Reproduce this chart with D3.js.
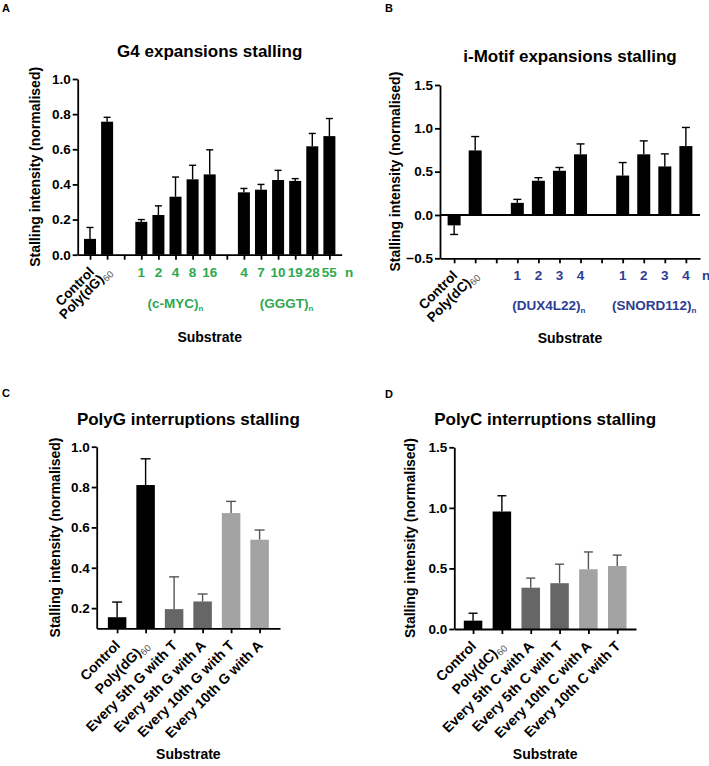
<!DOCTYPE html>
<html>
<head>
<meta charset="utf-8">
<script src="https://cdn.jsdelivr.net/npm/d3@7"></script>
<style>
  html, body { margin: 0; padding: 0; background: #fff; }
  svg text { font-family: "Liberation Sans", Arial, sans-serif; font-weight: bold; }
</style>
</head>
<body>
<script>
// ---------------- DATA ----------------
// Panel A: G4 expansions stalling
const aControls = ["Control", "Poly(dG)60"];
const aControlValues = [0.09, 0.757];
const aControlErrors = [0.065, 0.025];
const aMycRepeats = ["1", "2", "4", "8", "16"];
const aMycValues = [0.187, 0.226, 0.33, 0.429, 0.457];
const aMycErrors = [0.013, 0.052, 0.112, 0.08, 0.14];
const aGggtRepeats = ["4", "7", "10", "19", "28", "55"];
const aGggtValues = [0.355, 0.37, 0.425, 0.42, 0.617, 0.675];
const aGggtErrors = [0.022, 0.03, 0.055, 0.013, 0.073, 0.1];
const aTicks = [0.0, 0.2, 0.4, 0.6, 0.8, 1.0];

// Panel B: i-Motif expansions stalling
const bControls = ["Control", "Poly(dC)60"];
const bControlValues = [-0.12, 0.745];
const bControlErrors = [0.105, 0.16];
const bDuxRepeats = ["1", "2", "3", "4"];
const bDuxValues = [0.14, 0.395, 0.51, 0.70];
const bDuxErrors = [0.04, 0.035, 0.038, 0.12];
const bSnordRepeats = ["1", "2", "3", "4"];
const bSnordValues = [0.455, 0.70, 0.56, 0.795];
const bSnordErrors = [0.15, 0.155, 0.145, 0.215];
const bTicks = [-0.5, 0.0, 0.5, 1.0, 1.5];

// Panel C: PolyG interruptions stalling
const cCategories = ["Control", "Poly(dG)60", "Every 5th G with T", "Every 5th G with A", "Every 10th G with T", "Every 10th G with A"];
const cValues = [0.155, 0.81, 0.195, 0.233, 0.671, 0.539];
const cErrors = [0.075, 0.13, 0.16, 0.037, 0.058, 0.048];
const cShades = ["black", "black", "dark", "dark", "light", "light"];
const cTicks = [0.2, 0.4, 0.6, 0.8, 1.0];

// Panel D: PolyC interruptions stalling
const dCategories = ["Control", "Poly(dC)60", "Every 5th C with A", "Every 5th C with T", "Every 10th C with A", "Every 10th C with T"];
const dValues = [0.069, 0.97, 0.341, 0.378, 0.493, 0.52];
const dErrors = [0.061, 0.13, 0.079, 0.157, 0.143, 0.09];
const dShades = ["black", "black", "dark", "dark", "light", "light"];
const dTicks = [0.0, 0.5, 1.0, 1.5];

// ---------------- STYLE ----------------
const FILL = { black: "#000000", dark: "#666666", light: "#a3a3a3" };
const ERR = { black: "#000000", dark: "#555555", light: "#555555" };
const GREEN = "#2fa84f";
const BLUE = "#2e3d91";

const svg = d3.select("body").append("svg")
  .attr("width", 709).attr("height", 766);

function subLabel(sel, text, subSize, subColor) {
  const m = text.match(/^(.*\))(60|n)$/);
  if (m) {
    sel.append("tspan").text(m[1]);
    sel.append("tspan").attr("font-size", subSize).attr("dy", 3)
      .attr("font-weight", subColor ? "normal" : "bold")
      .attr("fill", subColor || null).text(m[2]);
  } else {
    sel.text(text);
  }
}

function drawPanel(o) {
  const g = svg.append("g");
  const y = d3.scaleLinear().domain(o.domain).range([o.yBot, o.yTop]);
  const x = d3.scalePoint().domain(o.keys).range([o.x0, o.x1]).padding(o.padding);
  const base = Math.max(0, o.domain[0]);
  const tip = d => d.v + (d.v < 0 ? -d.e : d.e);

  const bars = o.bars;
  g.selectAll(".err").data(bars).join("line")
    .attr("x1", d => x(d.key)).attr("x2", d => x(d.key))
    .attr("y1", d => y(d.v)).attr("y2", d => y(tip(d)))
    .attr("stroke", d => ERR[d.shade]).attr("stroke-width", 1.4);
  g.selectAll(".cap").data(bars).join("line")
    .attr("x1", d => x(d.key) - o.capW / 2).attr("x2", d => x(d.key) + o.capW / 2)
    .attr("y1", d => y(tip(d))).attr("y2", d => y(tip(d)))
    .attr("stroke", d => ERR[d.shade]).attr("stroke-width", 1.4);

  g.selectAll(".bar").data(bars).join("rect")
    .attr("x", d => x(d.key) - o.barW / 2)
    .attr("width", o.barW)
    .attr("y", d => y(Math.max(d.v, base)))
    .attr("height", d => Math.abs(y(d.v) - y(base)))
    .attr("fill", d => FILL[d.shade]);

  const gy = g.append("g").attr("transform", `translate(${o.x0},0)`)
    .call(d3.axisLeft(y).tickValues(o.ticks).tickSize(5).tickSizeOuter(0)
      .tickFormat(d3.format(".1f")).tickPadding(2));
  gy.select(".domain").attr("stroke-width", 1.8);
  gy.selectAll(".tick line").attr("stroke-width", 1.8);
  gy.selectAll(".tick text").attr("font-size", 13.5).attr("fill", "#000")
    .style("font-family", "Liberation Sans, Arial, sans-serif").style("font-weight", "bold");

  const gx = g.append("g").attr("transform", `translate(0,${o.yBot})`)
    .call(d3.axisBottom(x).tickSize(5).tickSizeOuter(0).tickFormat(""));
  gx.select(".domain").attr("stroke-width", 1.8);
  gx.selectAll(".tick line").attr("stroke-width", 1.8);

  if (o.zeroLine) {
    g.append("line").attr("x1", o.x0).attr("x2", o.x1)
      .attr("y1", y(0)).attr("y2", y(0))
      .attr("stroke", "#000").attr("stroke-width", 1.8);
  }

  g.selectAll(".rl").data(o.rotated).join("text")
    .attr("transform", d => `translate(${x(d.key) + o.rotDx},${o.yBot + o.rotDy}) rotate(-45)`)
    .attr("text-anchor", "end").attr("font-size", o.rotSize).attr("fill", "#000")
    .each(function (d) { subLabel(d3.select(this), d.label, 9.5, "#555"); });

  if (o.numbers) {
    g.selectAll(".num").data(o.numbers).join("text")
      .attr("x", d => x(d.key)).attr("y", o.numY)
      .attr("text-anchor", "middle").attr("font-size", 13.5).attr("fill", o.numColor)
      .text(d => d.label);
    g.append("text").attr("x", o.nX).attr("y", o.numY).attr("font-size", 13.5)
      .attr("fill", o.numColor).text("n");
    o.groups.forEach(grp => {
      const xs = grp.keys.map(k => x(k));
      const t = g.append("text").attr("x", d3.mean(xs)).attr("y", o.groupY)
        .attr("text-anchor", "middle").attr("font-size", 13.5).attr("fill", o.numColor);
      t.append("tspan").text(grp.label);
      t.append("tspan").attr("font-size", 8).attr("dy", 3).text("n");
    });
  }

  g.append("text").attr("x", (o.x0 + o.x1) / 2).attr("y", o.titleY)
    .attr("text-anchor", "middle").attr("font-size", 17).text(o.title);
  g.append("text")
    .attr("transform", `translate(${o.yLabX},${(o.yTop + o.yBot) / 2}) rotate(-90)`)
    .attr("text-anchor", "middle").attr("font-size", 14)
    .text("Stalling intensity (normalised)");
  g.append("text").attr("x", (o.x0 + o.x1) / 2).attr("y", o.subY)
    .attr("text-anchor", "middle").attr("font-size", 14).text("Substrate");
  g.append("text").attr("x", o.letterX).attr("y", o.letterY)
    .attr("font-size", 11).text(o.letter);
}

// ---------- Panel A ----------
(function () {
  const keys = [], bars = [], rotated = [], numbers = [];
  aControls.forEach((c, i) => { const k = "ctl" + i; keys.push(k); bars.push({ key: k, v: aControlValues[i], e: aControlErrors[i], shade: "black" }); rotated.push({ key: k, label: c }); });
  keys.push("gap1");
  const myc = [];
  aMycRepeats.forEach((r, i) => { const k = "myc" + r; keys.push(k); myc.push(k); bars.push({ key: k, v: aMycValues[i], e: aMycErrors[i], shade: "black" }); numbers.push({ key: k, label: r }); });
  keys.push("gap2");
  const gggt = [];
  aGggtRepeats.forEach((r, i) => { const k = "gggt" + r; keys.push(k); gggt.push(k); bars.push({ key: k, v: aGggtValues[i], e: aGggtErrors[i], shade: "black" }); numbers.push({ key: k, label: r }); });
  drawPanel({
    x0: 77.7, x1: 341.7, yTop: 79, yBot: 254.7, domain: [0, 1], ticks: aTicks,
    keys, bars, barW: 12, capW: 7, padding: 0.72,
    rotated, rotDx: 5, rotDy: 18, rotSize: 13.5,
    numbers, numY: 276.7, numColor: GREEN, nX: 345,
    groups: [{ label: "(c-MYC)", keys: myc }, { label: "(GGGT)", keys: gggt }], groupY: 308,
    title: "G4 expansions stalling", titleY: 57,
    yLabX: 40, subY: 341.5, letter: "A", letterX: 2, letterY: 12
  });
})();

// ---------- Panel B ----------
(function () {
  const keys = [], bars = [], rotated = [], numbers = [];
  bControls.forEach((c, i) => { const k = "ctl" + i; keys.push(k); bars.push({ key: k, v: bControlValues[i], e: bControlErrors[i], shade: "black" }); rotated.push({ key: k, label: c }); });
  keys.push("gap1");
  const dux = [];
  bDuxRepeats.forEach((r, i) => { const k = "dux" + r; keys.push(k); dux.push(k); bars.push({ key: k, v: bDuxValues[i], e: bDuxErrors[i], shade: "black" }); numbers.push({ key: k, label: r }); });
  keys.push("gap2");
  const sn = [];
  bSnordRepeats.forEach((r, i) => { const k = "sn" + r; keys.push(k); sn.push(k); bars.push({ key: k, v: bSnordValues[i], e: bSnordErrors[i], shade: "black" }); numbers.push({ key: k, label: r }); });
  drawPanel({
    x0: 440, x1: 700, yTop: 85, yBot: 258.3, domain: [-0.5, 1.5], ticks: bTicks,
    keys, bars, barW: 13, capW: 8, padding: 0.67, zeroLine: true,
    rotated, rotDx: 4, rotDy: 18, rotSize: 13.5,
    numbers, numY: 280, numColor: BLUE, nX: 702,
    groups: [{ label: "(DUX4L22)", keys: dux }, { label: "(SNORD112)", keys: sn }], groupY: 310,
    title: "i-Motif expansions stalling", titleY: 62,
    yLabX: 400, subY: 343, letter: "B", letterX: 385, letterY: 12
  });
})();

// ---------- Panel C ----------
(function () {
  const keys = cCategories.map((c, i) => "c" + i);
  const bars = cCategories.map((c, i) => ({ key: keys[i], v: cValues[i], e: cErrors[i], shade: cShades[i] }));
  const rotated = cCategories.map((c, i) => ({ key: keys[i], label: c }));
  drawPanel({
    x0: 96.7, x1: 280, yTop: 446.7, yBot: 628.3, domain: [0.1, 1.0], ticks: cTicks,
    keys, bars, barW: 18.5, capW: 10, padding: 0.716,
    rotated, rotDx: 4, rotDy: 18, rotSize: 14,
    title: "PolyG interruptions stalling", titleY: 425,
    yLabX: 60, subY: 759, letter: "C", letterX: 2, letterY: 397
  });
})();

// ---------- Panel D ----------
(function () {
  const keys = dCategories.map((c, i) => "d" + i);
  const bars = dCategories.map((c, i) => ({ key: keys[i], v: dValues[i], e: dErrors[i], shade: dShades[i] }));
  const rotated = dCategories.map((c, i) => ({ key: keys[i], label: c }));
  drawPanel({
    x0: 454.3, x1: 636, yTop: 447.3, yBot: 629, domain: [0, 1.5], ticks: dTicks,
    keys, bars, barW: 18.5, capW: 9, padding: 0.65,
    rotated, rotDx: 4, rotDy: 18, rotSize: 14,
    title: "PolyC interruptions stalling", titleY: 425,
    yLabX: 415, subY: 759, letter: "D", letterX: 385, letterY: 398
  });
})();
</script>
</body>
</html>
